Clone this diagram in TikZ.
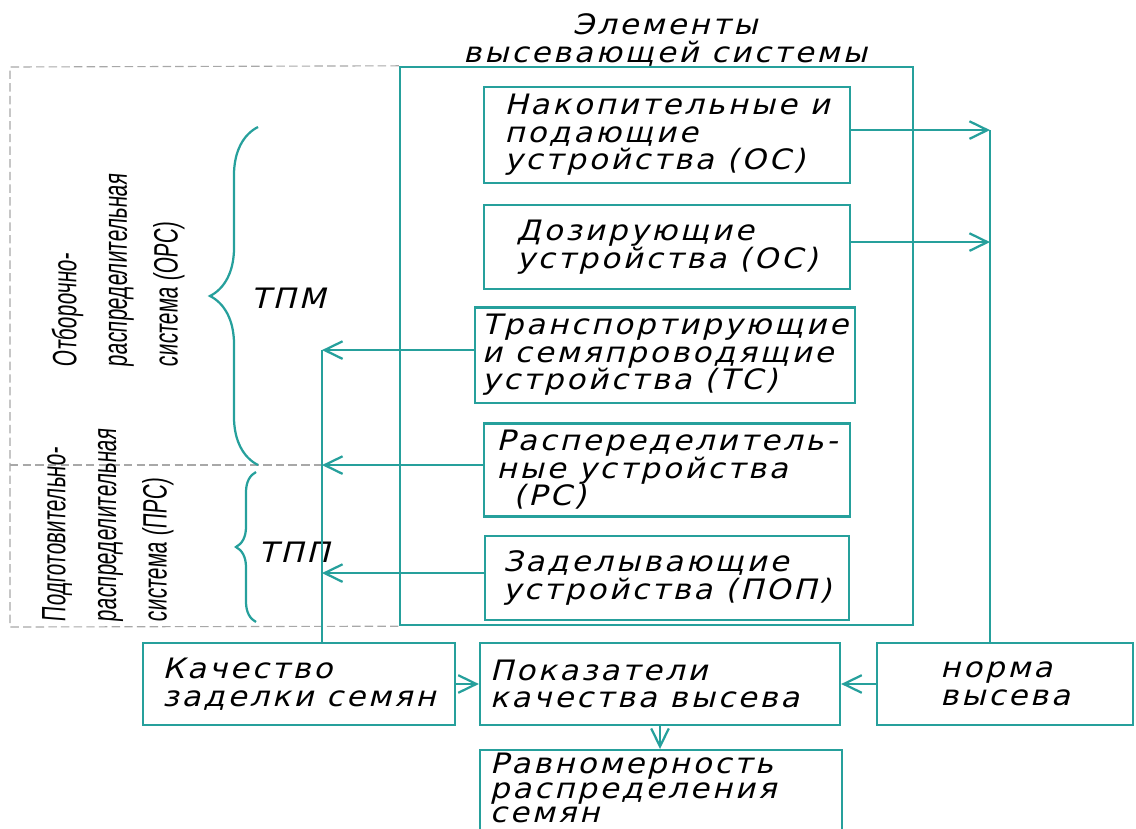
\documentclass[tikz,border=0pt]{standalone}
\usepackage{fontspec}
\newfontfamily\gostfont[FakeSlant=0.25, FakeStretch=1.1, LetterSpace=10]{DejaVu Sans}
\newfontfamily\narrowfont[FakeStretch=0.62, FakeSlant=0.08]{Liberation Sans}
\newcommand\wsp{\spaceskip=0.45em\relax}
\usetikzlibrary{arrows.meta, positioning, decorations.pathreplacing}
\definecolor{seedteal}{HTML}{26A09C}
\definecolor{seedgray}{HTML}{A8A8A8}
\tikzset{
	dnode/.style={draw=seedteal, line width=1.6pt, align=left, inner sep=5pt,
		font=\gostfont\fontsize{20}{19.5}\selectfont, text=black},
	darr/.style={-{Straight Barb[length=4.5mm, width=4.4mm]}, line width=1.6pt, draw=seedteal},
	dline/.style={line width=1.6pt, draw=seedteal},
	sysgrp/.style={draw=seedgray, dash pattern=on 6pt off 3pt, line width=0.8pt},
	sidelbl/.style={rotate=90, anchor=west, align=left, font=\narrowfont\fontsize{24}{36}\selectfont},
	bracelbl/.style={font=\gostfont\fontsize{20}{19.5}\selectfont},
	dbrace/.style={decorate, decoration={brace, amplitude=#1}, line width=1.6pt, draw=seedteal}
}

\begin{document}
\begin{tikzpicture}[x=0.025cm, y=-0.025cm]
	\useasboundingbox (0,0) rectangle (1136,828);

	% frame of the sowing system
	\node[dnode, minimum width=12.825cm, minimum height=13.95cm] (sys) at (656.5,346) {};
	\node[bracelbl, align=center, anchor=south] (systitle) at (665,71) {Элементы\\высевающей системы};

	% devices inside the frame
	\node[dnode, minimum width=9.15cm, minimum height=2.1cm] (nak) at (667,135) {Накопительные и\\подающие\\устройства (ОС)};
	\node[dnode, minimum width=9.15cm, minimum height=2.1cm] (doz) at (667,247) {Дозирующие\\устройства (ОС)};
	\node[dnode, minimum width=9.1cm, minimum height=2.1cm] (tra) at (665,355) {Транспортирующие\\и семяпроводящие\\устройства (ТС)};
	\node[dnode, minimum width=9.15cm, minimum height=2.1cm] (rasp) at (667,470) {Распеределитель-\\ные устройства\\\hspace*{0.6em}(РС)};
	\node[dnode, minimum width=9.1cm, minimum height=2.1cm] (zad) at (667,578) {Заделывающие\\устройства (ПОП)};

	% quality and rate boxes
	\node[dnode, minimum width=7.8cm, minimum height=2.05cm] (kach) at (299,684) {Качество\\заделки семян};
	\node[dnode, inner xsep=0.25cm, text width=8.5cm, minimum height=2.05cm] (pok) at (660,684) {\wsp Показатели\\качества высева};
	\node[dnode, minimum width=6.4cm, minimum height=2.05cm] (norm) at (1005,684) {норма\\высева};
	\node[dnode, anchor=north, inner xsep=0.25cm, inner ysep=2pt, text width=8.55cm,
		font=\gostfont\fontsize{20}{17.5}\selectfont] (ravn) at (661,749) {Равномерность\\распределения\\семян\rule[-1.5cm]{0pt}{0pt}};

	% dashed groups on the left
	\draw[sysgrp] (sys.north west) -- (10,67) -- (10,627) -- (sys.south west);
	\draw[sysgrp] (10,465) -- (322,465);
	\node[sidelbl] (ors) at (118,372) {Отборочно-\\распределительная\\система (ОРС)};
	\node[sidelbl] (prs) at (108,627) {Подготовительно-\\распределительная\\система (ПРС)};

	% braces
	\draw[dbrace=1.2cm] (258,465) -- (258,127);
	\node[bracelbl] (tpm) at (288,298) {ТПМ};
	\draw[dbrace=0.5cm] (256,622) -- (256,472);
	\node[bracelbl] (tpp) at (294,552) {ТПП};

	% buses
	\coordinate (lbus) at (322,350);
	\coordinate (rbus) at (990,130);
	\draw[dline] (kach.north -| lbus) -- (lbus);
	\draw[dline] (norm.north -| rbus) -- (rbus);

	\draw[darr] ([yshift=3.5pt]nak.east) -- ([yshift=3.5pt]nak.east -| rbus);
	\draw[darr] ([yshift=3.5pt]doz.east) -- ([yshift=3.5pt]doz.east -| rbus);
	\draw[darr] ([yshift=3.5pt]tra.west) -- ([yshift=3.5pt]tra.west -| lbus);
	\draw[darr] ([yshift=3.5pt]rasp.west) -- ([yshift=3.5pt]rasp.west -| lbus);
	\draw[darr] ([yshift=3.5pt]zad.west) -- ([yshift=3.5pt]zad.west -| lbus);
	\draw[darr] (kach) -- (pok);
	\draw[darr] (norm) -- (pok);
	\draw[darr] (pok.south) -- (pok.south |- ravn.north);
\end{tikzpicture}
\end{document}
